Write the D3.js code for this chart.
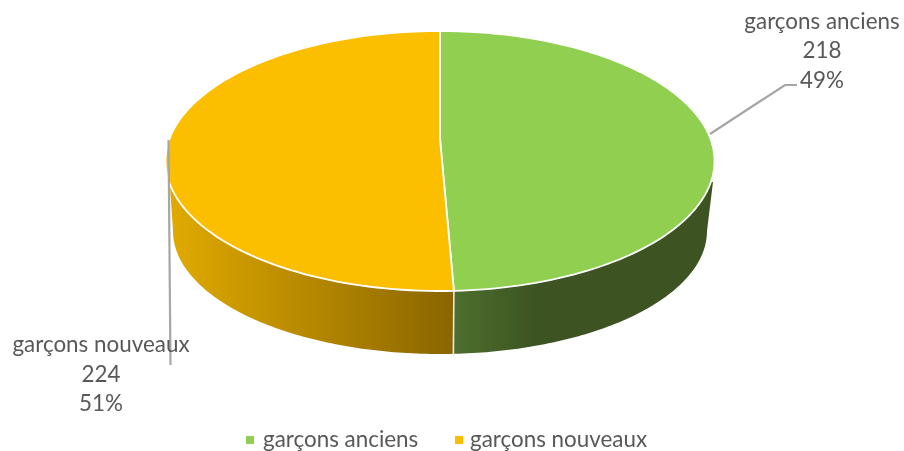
<!DOCTYPE html>
<html><head><meta charset="utf-8">
<script src="https://cdn.jsdelivr.net/npm/d3@7"></script>
<style>html,body{margin:0;padding:0;background:#fff}svg{display:block}text{font-family:Lato,"Open Sans",sans-serif;fill:#595959}</style>
</head><body><svg width="904" height="451"></svg>
<script>
const categories=["garçons anciens","garçons nouveaux"];
const values=[218,224];
const percents=["49%","51%"];
const colors=["#90cf50","#fcbf00"];
const wallGrad=[[["0","#4d6f2e"],["0.33","#3c5222"],["1","#3d5322"]],[["0","#e0aa00"],["1","#8a6500"]]];

const svg=d3.select("svg");
const cx=440,cy=161,rx=274.5,ry=130,d=0.17;
const botCy=231,botRx=267,botRy=123;
const fs=22.4;
const pie=d3.pie().sort(null).value(v=>v)(values);
// Perspective: the pie centre is drawn above the ellipse centre
function proj(a){
  const u=Math.sin(a),v=-Math.cos(a),w=1-d*v;
  return [cx+rx*u*Math.sqrt(1-d*d)/w, cy+ry*(v-d)/w];
}
const apex=[cx,cy-d*ry];
const line=d3.line();
const sample=(a0,a1)=>d3.range(0,121).map(i=>proj(a0+(a1-a0)*i/120));
const splitX=proj(pie[0].endAngle)[0];

const defs=svg.append("defs");
const f=defs.append("filter").attr("id","soft").attr("x","0").attr("y","0").attr("width","100%").attr("height","100%");
f.append("feGaussianBlur").attr("stdDeviation",0.5);
const root=svg.append("g").attr("filter","url(#soft)");
root.append("rect").attr("width",904).attr("height",451).attr("fill","#fff");

const leftX=cx-botRx-4,rightX=cx+botRx+8;
const spans=[[splitX,rightX],[leftX,splitX]];
wallGrad.forEach((stops,i)=>{
  const g=defs.append("linearGradient").attr("id","wall"+i).attr("gradientUnits","userSpaceOnUse")
    .attr("x1",spans[i][0]).attr("x2",spans[i][1]).attr("y1",0).attr("y2",0);
  stops.forEach(s=>g.append("stop").attr("offset",s[0]).attr("stop-color",s[1]));
  defs.append("clipPath").attr("id","clip"+i).append("rect")
    .attr("x",spans[i][0]).attr("y",0).attr("width",spans[i][1]-spans[i][0]).attr("height",451);
});
// wall silhouette: bottom ellipse joined to the top ellipse
const wallShape=d3.range(0,181).map(i=>{const a=Math.PI*i/180;return [cx+botRx*Math.cos(a),botCy+botRy*Math.sin(a)];});
const wallPath=line([[cx+botRx+6,cy+21],...wallShape,[cx-botRx-3,cy+26],[cx,cy]])+"Z";
[0,1].forEach(i=>root.append("path").attr("d",wallPath).attr("fill",`url(#wall${i})`).attr("clip-path",`url(#clip${i})`));
const b=proj(pie[0].endAngle);
root.append("line").attr("x1",splitX).attr("y1",b[1]).attr("x2",splitX-0.5).attr("y2",botCy+botRy).attr("stroke","#fff").attr("stroke-width",1.6).attr("opacity",.85);

// top face
pie.forEach((p,i)=>{
  root.append("path").attr("d",line([apex,...sample(p.startAngle,p.endAngle)])+"Z")
    .attr("fill",colors[i]).attr("stroke","#fff").attr("stroke-width",1.8).attr("stroke-linejoin","round");
});

// leader lines
const leaders=[[[710,134],[785,85],[797,85]],[[168.5,140],[170.5,365]]];
leaders.forEach(l=>root.append("path").attr("d",line(l)).attr("fill","none").attr("stroke","#a6a6a6").attr("stroke-width",2.2));

// labels
const labelX=[822,101],labelY=[28.5,352];
pie.forEach((p,i)=>{
  [categories[i],values[i],percents[i]].forEach((t,j)=>{
    root.append("text").attr("x",labelX[i]).attr("y",labelY[i]+j*29.6).attr("text-anchor","middle").attr("font-size",fs).text(t);
  });
});
// legend
const legSq=[246,455],legTx=[263,470];
categories.forEach((c,i)=>{
  root.append("rect").attr("x",legSq[i]).attr("y",436).attr("width",8).attr("height",8).attr("fill",colors[i]);
  root.append("text").attr("x",legTx[i]).attr("y",447).attr("font-size",fs).text(c);
});
</script></body></html>
